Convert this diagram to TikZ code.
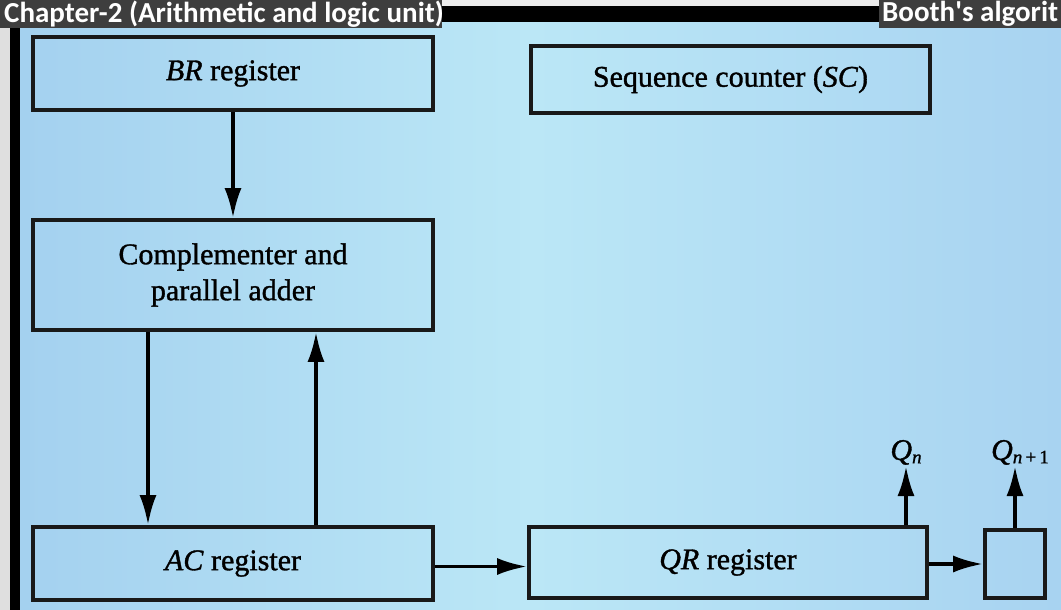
\documentclass[tikz,border=0pt]{standalone}
\usepackage{fontspec}
\setmainfont{Liberation Serif}
\newfontfamily\bodyrm{Liberation Serif}[FakeBold=1.2, ItalicFeatures={FakeBold=1.2}]
\newfontfamily\hdrfont{Carlito}
\usetikzlibrary{arrows.meta}
\definecolor{bgl}{HTML}{A3D0EF}
\definecolor{bgm}{HTML}{BBE7F6}
\definecolor{bgr}{HTML}{A8D3F1}
\definecolor{hdrgray}{HTML}{3E3E3E}
\begin{document}
\begin{tikzpicture}[x=1pt,y=-1pt,
  blk/.style={draw=black!90, line width=3.8pt, inner sep=0pt, align=center,
    font=\bodyrm\fontsize{30}{36}\selectfont},
  arr/.style={line width=3.6pt, -{Latex[length=30pt,width=17pt]}},
  hdr/.style={text=white, font=\hdrfont\bfseries\fontsize{29}{30}\selectfont, inner sep=0pt, anchor=west},
  qlab/.style={font=\bodyrm\fontsize{30}{32}\selectfont, inner sep=1pt}
]
\useasboundingbox (0,0) rectangle (1061,610);
\shade[left color=bgl, right color=bgr, middle color=bgm] (0,0) rectangle (1061,610);
% header and frame
\fill[white!85!gray] (0,0) rectangle (1061,6);
\fill[black] (0,6) rectangle (1061,22);
\fill[hdrgray] (0,0) rectangle (442,28);
\fill[hdrgray] (879,0) rectangle (1061,28);
\node[hdr] (title) at (4,14) {Chapter-2 (Arithmetic and logic unit)};
\node[hdr] (topic) at (882,14) {Booth's algorit};
\fill[gray!25] (0,28) rectangle (10,610);
\fill[black] (10,28) rectangle (20,610);
% blocks
\node[blk, minimum width=400pt, minimum height=73pt] (BR) at (233,73.5) {\textit{BR} register};
\node[blk, minimum width=399pt, minimum height=67pt] (SC) at (730.5,79.5) {Sequence counter (\textit{SC})};
\node[blk, minimum width=400pt, minimum height=110pt] (CP) at (233,275) {Complementer and\\parallel adder};
\node[blk, minimum width=400pt, minimum height=73pt] (AC) at (233,563.5) {\textit{AC} register};
\node[blk, minimum width=398pt, minimum height=71pt] (QR) at (728,562.5) {\textit{QR} register};
\node[blk, minimum width=60pt, minimum height=68pt] (QB) at (1015,564) {};
% labels
\node[qlab, anchor=south] (Qn) at (906,466) {\textit{Q}\raisebox{-0.25ex}{\fontsize{19}{20}\selectfont\textit{n}}};
\node[qlab, anchor=south] (Qn1) at (1020,466) {\textit{Q}\raisebox{-0.25ex}{\fontsize{19}{20}\selectfont\textit{n}\,+\,1}};
% connectors
\draw[arr] (BR.south) -- (CP.north);
\draw[arr] ([xshift=-85pt]CP.south) -- ([xshift=-85pt]AC.north);
\draw[arr] ([xshift=83pt]AC.north) -- ([xshift=83pt]CP.south);
\draw[arr] ([yshift=-3pt]AC.east) -- ([yshift=-3pt]AC.east -| QR.west);
\draw[arr] (QR.east |- QB.west) -- (QB.west);
\draw[arr] ([xshift=178pt]QR.north) -- ([xshift=178pt]QR.north |- Qn.south);
\draw[arr] (QB.north) -- (QB.north |- Qn1.south);
\end{tikzpicture}
\end{document}
